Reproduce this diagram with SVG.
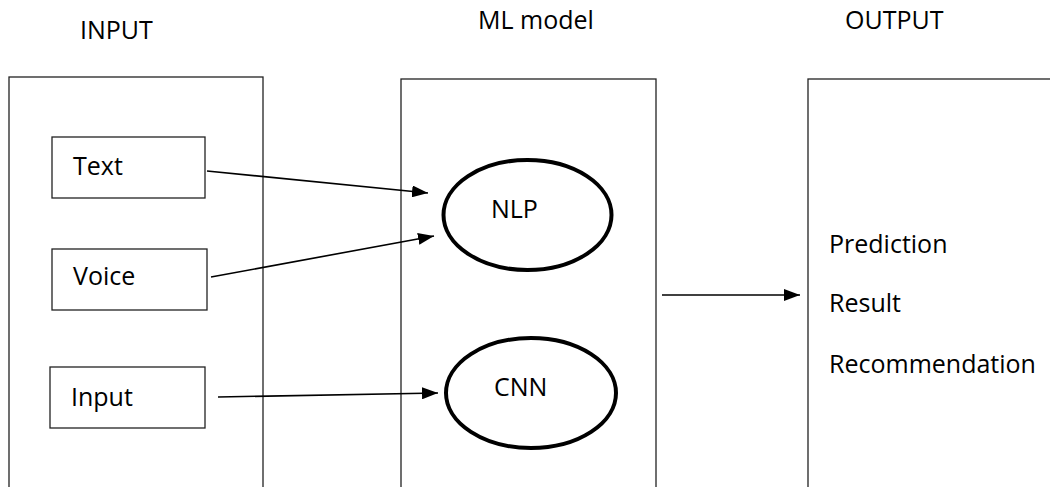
<svg xmlns="http://www.w3.org/2000/svg" width="1050" height="487" viewBox="0 0 1050 487">
<style>
text{font-family:"Open Sans","Liberation Sans",sans-serif;font-size:25px;fill:#000}
.panel{fill:#fff;stroke:#222;stroke-width:1.3}
.box{fill:#fff;stroke:#222;stroke-width:1.3}
.ell{fill:#fff;stroke:#000;stroke-width:4}
.conn{stroke:#000;stroke-width:1.6;fill:none;marker-end:url(#ah)}
</style>
<defs>
<marker id="ah" viewBox="0 0 16 12" refX="16" refY="6" markerWidth="16" markerHeight="12" markerUnits="userSpaceOnUse" orient="auto">
<path d="M0,0 L16,6 L0,12 Z" fill="#000"/>
</marker>
</defs>
<g id="headers">
<text x="80" y="39">INPUT</text>
<text x="478" y="29">ML model</text>
<text x="845" y="29">OUTPUT</text>
</g>
<g id="panel-input"><rect class="panel" x="9" y="77" width="254" height="420"/></g>
<g id="panel-model"><rect class="panel" x="401" y="79" width="255" height="420"/></g>
<g id="panel-output"><rect class="panel" x="808" y="79" width="260" height="420"/>
<text x="829" y="253">Prediction</text>
<text x="829" y="312">Result</text>
<text x="829" y="373">Recommendation</text>
</g>
<g id="node-text"><rect class="box" x="52" y="137" width="153" height="61"/><text x="73" y="175">Text</text></g>
<g id="node-voice"><rect class="box" x="52" y="249" width="155" height="61"/><text x="73" y="285">Voice</text></g>
<g id="node-input"><rect class="box" x="50" y="367" width="155" height="61"/><text x="71" y="406">Input</text></g>
<g id="node-nlp"><ellipse class="ell" cx="527.5" cy="215" rx="84" ry="55"/><text x="491" y="218">NLP</text></g>
<g id="node-cnn"><ellipse class="ell" cx="531" cy="393" rx="85" ry="55"/><text x="494" y="396">CNN</text></g>
<g id="connectors">
<line class="conn" x1="207" y1="171" x2="428" y2="193"/>
<line class="conn" x1="211" y1="277" x2="434" y2="236"/>
<line class="conn" x1="218" y1="397" x2="438" y2="393"/>
<line class="conn" x1="662" y1="295" x2="800" y2="295"/>
</g>
</svg>
